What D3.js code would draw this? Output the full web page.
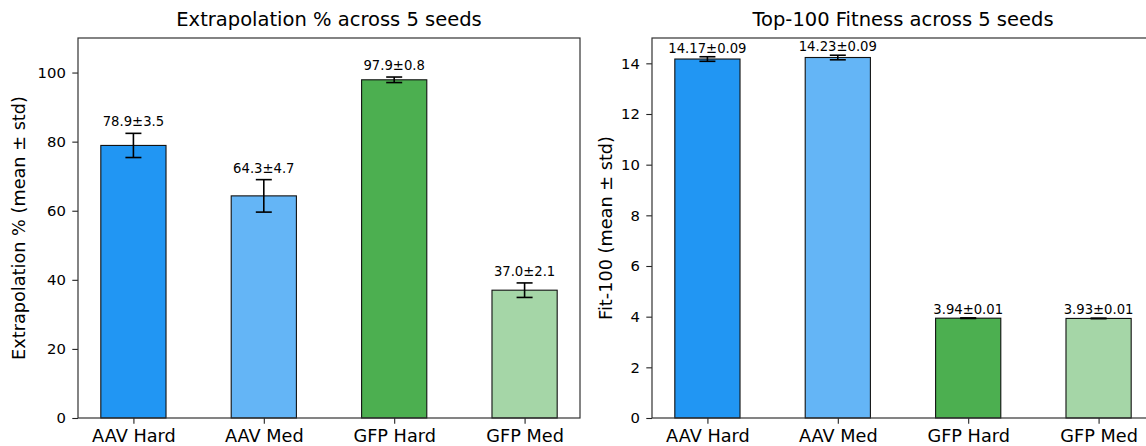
<!DOCTYPE html>
<html>
<head>
<meta charset="utf-8">
<script src="https://cdn.jsdelivr.net/npm/d3@7"></script>
<style>
  html, body { margin: 0; padding: 0; background: #fff; }
  svg { display: block; font-family: "DejaVu Sans", sans-serif; }
</style>
</head>
<body>
<svg id="chart" width="1146" height="446"></svg>
<script>
// Benchmark categories shared by both panels
const categories = ["AAV Hard", "AAV Med", "GFP Hard", "GFP Med"];
const barColors = ["#2196F3", "#64B5F6", "#4CAF50", "#A5D6A7"];

// Extrapolation % (mean and std over 5 seeds)
const extrapMean = [78.9, 64.3, 97.9, 37.0];
const extrapStd = [3.5, 4.7, 0.8, 2.1];
const extrapTicks = [0, 20, 40, 60, 80, 100];

// Top-100 fitness (mean and std over 5 seeds)
const fitMean = [14.17, 14.23, 3.94, 3.93];
const fitStd = [0.09, 0.09, 0.01, 0.01];
const fitTicks = [0, 2, 4, 6, 8, 10, 12, 14];

const svg = d3.select("#chart");

function panel(opts) {
  const { left, right, top, bottom, yMax, ticks, mean, std, digits,
          title, yLabel, labelPad, yLabelX } = opts;

  // Band layout reproduces bars of width 0.5 with 5% side margins
  const n = categories.length;
  const lo = -0.25 - 0.175, hi = (n - 1) + 0.25 + 0.175;
  const xLin = d3.scaleLinear().domain([lo, hi]).range([left, right]);
  const y = d3.scaleLinear().domain([0, yMax]).range([bottom, top]);
  const barW = xLin(0.5) - xLin(0);

  const g = svg.append("g");

  // bars
  g.selectAll("rect.bar").data(mean).enter().append("rect")
    .attr("class", "bar")
    .attr("x", (d, i) => xLin(i) - barW / 2)
    .attr("width", barW)
    .attr("y", d => y(d))
    .attr("height", d => y(0) - y(d))
    .attr("fill", (d, i) => barColors[i])
    .attr("stroke", "#111")
    .attr("stroke-width", 1.1);

  // error bars with caps and value labels
  const cap = 8;
  mean.forEach((m, i) => {
    const cx = xLin(i);
    const y1 = y(m - std[i]), y2 = y(m + std[i]);
    g.append("line").attr("x1", cx).attr("x2", cx).attr("y1", y1).attr("y2", y2)
      .attr("stroke", "#000").attr("stroke-width", 1.6);
    [y1, y2].forEach(yy => {
      g.append("line").attr("x1", cx - cap).attr("x2", cx + cap).attr("y1", yy).attr("y2", yy)
        .attr("stroke", "#000").attr("stroke-width", 1.6);
    });
    g.append("text")
      .attr("x", cx)
      .attr("y", y2 - labelPad)
      .attr("text-anchor", "middle")
      .attr("font-size", 13.2)
      .attr("fill", "#000")
      .text(m.toFixed(digits) + "\u00b1" + std[i].toFixed(digits));
  });

  // y axis
  const yAxis = d3.axisLeft(y).tickValues(ticks).tickSize(5.7).tickPadding(6.5)
    .tickFormat(d3.format("d"));
  const ya = g.append("g").attr("transform", `translate(${left},0)`).call(yAxis);
  ya.select(".domain").remove();
  ya.selectAll(".tick line").attr("stroke", "#222").attr("stroke-width", 1.1);
  ya.selectAll(".tick text").attr("font-size", 14.8).attr("fill", "#000")
    .attr("font-family", "DejaVu Sans, sans-serif");

  // x axis
  const xAxis = d3.axisBottom(xLin).tickValues(d3.range(n)).tickSize(5.7).tickPadding(5.4)
    .tickFormat(i => categories[i]);
  const xa = g.append("g").attr("transform", `translate(0,${bottom})`).call(xAxis);
  xa.select(".domain").remove();
  xa.selectAll(".tick line").attr("stroke", "#222").attr("stroke-width", 1.1);
  xa.selectAll(".tick text").attr("font-size", 17.7).attr("fill", "#000")
    .attr("font-family", "DejaVu Sans, sans-serif");

  // frame
  g.append("rect")
    .attr("x", left).attr("y", top)
    .attr("width", right - left).attr("height", bottom - top)
    .attr("fill", "none").attr("stroke", "#333").attr("stroke-width", 1.2);

  // title
  g.append("text")
    .attr("x", (left + right) / 2).attr("y", top - 12)
    .attr("text-anchor", "middle")
    .attr("font-size", 19.5).attr("fill", "#000")
    .text(title);

  // y label
  g.append("text")
    .attr("transform", `translate(${yLabelX},${(top + bottom) / 2}) rotate(-90)`)
    .attr("text-anchor", "middle")
    .attr("dominant-baseline", "central")
    .attr("font-size", 17.7).attr("fill", "#000")
    .text(yLabel);
}

panel({
  left: 78, right: 580, top: 38, bottom: 418, yMax: 110, ticks: extrapTicks,
  mean: extrapMean, std: extrapStd, digits: 1,
  title: "Extrapolation % across 5 seeds",
  yLabel: "Extrapolation % (mean \u00b1 std)",
  labelPad: 7, yLabelX: 19
});

panel({
  left: 652, right: 1154, top: 38, bottom: 418, yMax: 15, ticks: fitTicks,
  mean: fitMean, std: fitStd, digits: 2,
  title: "Top-100 Fitness across 5 seeds",
  yLabel: "Fit-100 (mean \u00b1 std)",
  labelPad: 4, yLabelX: 606
});
</script>
</body>
</html>
